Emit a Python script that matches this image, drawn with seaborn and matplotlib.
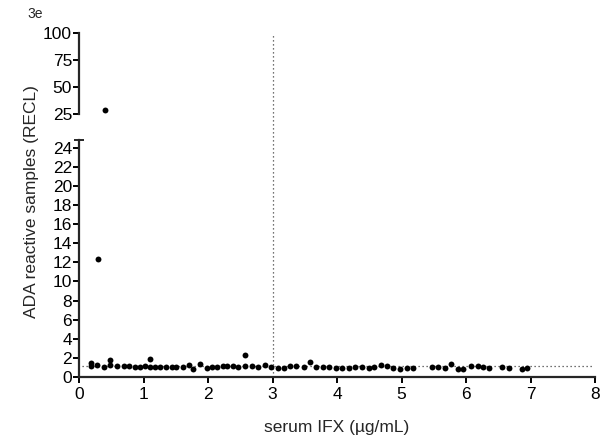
import matplotlib
matplotlib.use("Agg")
import matplotlib.pyplot as plt
import seaborn as sns
import pandas as pd

serum_ifx = [0.19, 0.19, 0.28, 0.30, 0.40, 0.38, 0.48, 0.48, 0.59, 0.69, 0.78, 0.87, 0.95, 1.02,
             1.10, 1.10, 1.18, 1.26, 1.35, 1.44, 1.51, 1.61, 1.70, 1.77, 1.88, 1.98, 2.06,
             2.14, 2.23, 2.29, 2.38, 2.47, 2.58, 2.58, 2.68, 2.78, 2.88, 2.98, 3.08, 3.17,
             3.27, 3.37, 3.48, 3.58, 3.67, 3.78, 3.88, 3.98, 4.07, 4.18, 4.28, 4.38, 4.49,
             4.58, 4.68, 4.77, 4.87, 4.98, 5.08, 5.17, 5.47, 5.57, 5.67, 5.77, 5.87, 5.96,
             6.07, 6.18, 6.27, 6.36, 6.55, 6.66, 6.86, 6.95]
recl = [1.5, 1.1, 1.25, 12.4, 28.5, 1.05, 1.75, 1.25, 1.1, 1.1, 1.15, 1.0, 1.05, 1.1,
        1.9, 1.05, 1.0, 1.0, 1.05, 1.05, 1.0, 1.05, 1.3, 0.85, 1.35, 0.95, 1.05,
        1.05, 1.1, 1.1, 1.1, 1.05, 2.3, 1.1, 1.1, 1.0, 1.3, 1.05, 0.9, 0.9,
        1.1, 1.1, 1.0, 1.6, 1.0, 1.0, 1.05, 0.95, 0.9, 0.95, 1.0, 1.0, 0.9,
        1.0, 1.3, 1.15, 0.95, 0.8, 0.95, 0.9, 1.0, 1.05, 0.9, 1.4, 0.85, 0.8,
        1.1, 1.15, 1.0, 0.9, 1.0, 0.9, 0.8, 0.95]

cutoff_ifx = 3
cutoff_recl = 1.1
x_ticks = [0, 1, 2, 3, 4, 5, 6, 7, 8]
y_ticks_low = [0, 2, 4, 6, 8, 10, 12, 14, 16, 18, 20, 22, 24]
y_ticks_high = [25, 50, 75, 100]

df = pd.DataFrame({"ifx": serum_ifx, "recl": recl})

sns.set_theme(style="ticks")
plt.rcParams["font.family"] = ["Liberation Sans", "DejaVu Sans"]

FS = 12.5
fig = plt.figure(figsize=(6.05, 4.38), dpi=100)
ax_hi = fig.add_axes([0.1306, 0.7397, 0.853, 0.185])
ax_lo = fig.add_axes([0.1306, 0.1393, 0.853, 0.541])

dot = (0, (1, 2.2))
for ax in (ax_hi, ax_lo):
    sns.scatterplot(data=df, x="ifx", y="recl", ax=ax, color="black", s=18,
                    edgecolor="black", linewidth=0, legend=False)
    ax.set_xlim(0, 8)
    ax.set_xlabel("")
    ax.set_ylabel("")
    for s in ("top", "right"):
        ax.spines[s].set_visible(False)
    ax.spines["left"].set_linewidth(1.6)
    ax.spines["bottom"].set_linewidth(1.6)
    ax.tick_params(axis="both", direction="out", length=4, width=1.4,
                   labelsize=FS, pad=1, color="black", labelcolor="black")

ax_lo.tick_params(axis="x", pad=3)
ax_lo.hlines(cutoff_recl, 0.05, 7.95, color="#444444", linestyle=dot, lw=0.9, zorder=0)

ax_hi.set_ylim(25, 100)
ax_hi.set_yticks(y_ticks_high)
ax_hi.spines["bottom"].set_visible(False)
ax_hi.tick_params(axis="x", bottom=False, labelbottom=False)

ax_lo.set_ylim(0, 24.8)
ax_lo.set_yticks(y_ticks_low)
ax_lo.set_yticks([24.8], minor=True)
ax_lo.tick_params(axis="y", which="minor", direction="inout", length=7, width=1.4)
ax_lo.set_xticks(x_ticks)
ax_lo.set_xlabel("serum IFX (\u00b5g/mL)", fontsize=FS, labelpad=13)

# vertical cut-off line running through both panels and the gap
disp_top = ax_hi.transData.transform((cutoff_ifx, ax_hi.get_ylim()[1]))
y_top = ax_lo.transData.inverted().transform(disp_top)[1]
ax_lo.plot([cutoff_ifx, cutoff_ifx], [0, y_top], color="#444444", linestyle=dot,
           lw=0.9, zorder=0, clip_on=False)

fig.text(0.052, 0.54, "ADA reactive samples (RECL)", rotation=90,
         ha="center", va="center", fontsize=FS)
fig.text(0.046, 0.968, "3e", fontsize=10, ha="left", va="center")

fig.savefig("out.png", dpi=100, facecolor="white")
